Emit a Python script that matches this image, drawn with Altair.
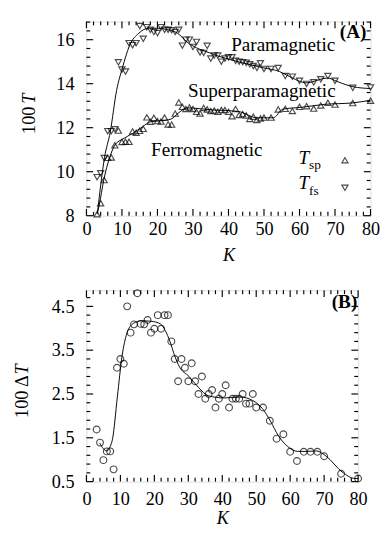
import altair as alt
import pandas as pd

FONT = "Liberation Serif, Times New Roman, serif"

# ---------------- data ----------------
K = list(range(3, 51)) + [52, 54, 56, 58, 60, 62, 64, 66, 68, 70, 75, 80]

T_sp = [8.07, 8.57, 9.62, 10.63, 10.65, 11.20, 11.87, 11.35, 11.36, 11.36,
        11.83, 11.77, 11.86, 11.95, 12.47, 12.27, 12.45, 12.30, 12.28, 12.46,
        12.15, 12.14, 12.64, 13.15, 12.95, 12.85, 12.92, 12.85, 12.72, 12.65,
        12.90, 12.83, 12.76, 12.78, 12.72, 12.80, 12.80, 12.72, 12.52, 12.85,
        12.58, 12.62, 12.56, 12.40, 12.50, 12.35, 12.42, 12.46,
        12.46, 12.83, 12.86, 12.76, 12.95, 12.98, 12.87, 13.01, 13.13, 13.05,
        13.12, 13.23]

T_fs = [9.75, 9.93, 10.62, 11.84, 11.84, 11.93, 14.97, 14.64, 14.55, 15.84,
        15.75, 15.84, 16.62, 16.04, 16.57, 16.45, 16.35, 16.30, 16.57, 16.45,
        16.45, 16.43, 16.35, 16.45, 15.73, 16.00, 16.00, 15.67, 15.90, 15.42,
        15.40, 15.72, 15.14, 15.28, 15.28, 15.00, 15.14, 15.20, 15.20, 15.04,
        15.00, 14.98, 14.95, 14.88, 14.80, 14.72, 14.93, 14.67,
        14.67, 14.71, 14.35, 14.32, 14.13, 13.99, 14.06, 14.20, 14.35, 14.13,
        13.81, 13.83]

dT = [1.69, 1.39, 0.99, 1.19, 1.19, 0.78, 3.10, 3.30, 3.19, 4.50,
      3.90, 4.09, 4.80, 4.10, 4.09, 4.19, 3.90, 3.99, 4.30, 3.99,
      4.30, 4.30, 3.70, 3.30, 2.79, 3.30, 3.10, 2.79, 3.20, 2.79,
      2.50, 2.90, 2.39, 2.50, 2.59, 2.19, 2.39, 2.50, 2.70, 2.19,
      2.39, 2.39, 2.39, 2.50, 2.28, 2.28, 2.50, 2.19,
      2.19, 1.89, 1.48, 1.58, 1.18, 0.97, 1.18, 1.18, 1.18, 1.08,
      0.68, 0.57]

fit_fs_K = [3.1, 5.1, 6.7, 8.5, 10.1, 12.1, 14.8, 17.5, 20.2, 22.9, 25.6, 28.3,
            35.5, 42.7, 49.9, 54.4, 57.1, 62.0, 67.9, 70.6, 75.1, 80.0]
fit_fs_T = [8.12, 10.65, 11.8, 13.7, 14.7, 15.72, 16.3, 16.52, 16.52, 16.45, 16.3, 15.9,
            15.35, 15.0, 14.72, 14.55, 14.33, 14.04, 14.26, 14.1, 13.86, 13.78]

fit_sp_K = [3.0, 3.6, 4.9, 6.55, 8.1, 10.3, 13.0, 15.7, 18.0, 21.2, 23.8, 26.0,
            28.3, 35.5, 42.7, 48.1, 52.6, 55.3, 60.7, 67.0, 75.1, 80.0]
fit_sp_T = [8.07, 8.48, 9.64, 10.65, 11.23, 11.49, 11.74, 12.03, 12.27, 12.32, 12.39, 12.68,
            12.9, 12.81, 12.74, 12.45, 12.45, 12.84, 12.93, 13.06, 13.13, 13.25]

fit_dT_K = [3.9, 5.0, 6.0, 7.0, 7.7, 9.1, 10.5, 11.9, 13.8, 16.2, 19.0, 21.8, 23.2,
            24.6, 26.0, 27.4, 30.2, 33.0, 35.9, 40.6, 45.3, 49.0, 51.8, 54.2, 56.5,
            59.3, 62.2, 65.0, 67.8, 70.6, 75.3, 79.1, 80.0]
fit_dT = [1.38, 1.25, 1.2, 1.3, 1.48, 2.43, 3.37, 3.88, 4.11, 4.17, 4.16, 4.1, 3.95,
          3.7, 3.37, 3.12, 2.9, 2.65, 2.46, 2.41, 2.43, 2.35, 2.17, 1.88, 1.55,
          1.3, 1.19, 1.19, 1.2, 1.08, 0.72, 0.57, 0.57]

x_major = [0, 10, 20, 30, 40, 50, 60, 70, 80]
x_minor = [v for v in range(0, 81, 2) if v % 10 != 0]
yA_major = [8, 10, 12, 14, 16]
yA_minor = [round(8 + 0.4 * i, 2) for i in range(23) if i % 5 != 0]
yB_major = [0.5, 1.5, 2.5, 3.5, 4.5]
yB_minor = [round(0.5 + 0.2 * i, 2) for i in range(22) if i % 5 != 0]

annA_K = [55.4, 49.4, 33.9]
annA_V = [15.47, 13.38, 10.73]
annA_txt = ["Paramagnetic", "Superparamagnetic", "Ferromagnetic"]

# ---------------- layout ----------------
WA, HA = 297, 203
WB, HB = 284, 200
LMAJ, LMIN = 7, 4


def panel(W, H, xdom, ydom, ymaj, ymin, yfmt, layers, ytitle_x, ytitle_parts,
          xlab_pad, xtitle_pad):
    xenc = alt.X("K:Q", scale=alt.Scale(domain=xdom, nice=False, zero=False),
                 axis=alt.Axis(values=x_major, format="d", tickSize=0, domain=False, grid=False,
                               labelFont=FONT, labelFontSize=19, labelColor="black",
                               labelPadding=xlab_pad, labelFlush=False,
                               title="K", titleFont=FONT, titleFontSize=19,
                               titleFontStyle="italic", titleFontWeight="normal",
                               titleColor="black", titlePadding=xtitle_pad))
    yenc = alt.Y("V:Q", scale=alt.Scale(domain=ydom, nice=False, zero=False),
                 axis=alt.Axis(values=ymaj, format=yfmt, tickSize=0, domain=False, grid=False,
                               labelFont=FONT, labelFontSize=19, labelColor="black",
                               labelPadding=13, labelFlush=False, title=None))
    out = []
    for kind, df, mk, extra in layers:
        base = alt.Chart(df)
        if kind == "point":
            c = base.mark_point(**mk)
        elif kind == "line":
            c = base.mark_line(**mk)
        else:
            c = base.mark_text(**mk)
        enc = dict(x=xenc, y=yenc)
        enc.update(extra)
        out.append(c.encode(**enc))
    # inward ticks on all four sides
    rk = dict(color="black", strokeWidth=1.2)
    for vals, L in ((x_major, LMAJ), (x_minor, LMIN)):
        d = pd.DataFrame({"K": vals})
        out.append(alt.Chart(d).mark_rule(**rk).encode(x=xenc, y=alt.value(H), y2=alt.value(H - L)))
        out.append(alt.Chart(d).mark_rule(**rk).encode(x=xenc, y=alt.value(0), y2=alt.value(L)))
    for vals, L in ((ymaj, LMAJ), (ymin, LMIN)):
        d = pd.DataFrame({"V": vals})
        out.append(alt.Chart(d).mark_rule(**rk).encode(y=yenc, x=alt.value(0), x2=alt.value(L)))
        out.append(alt.Chart(d).mark_rule(**rk).encode(y=yenc, x=alt.value(W), x2=alt.value(W - L)))
    for txt_, ypos, align, style in ytitle_parts:
        out.append(alt.Chart(pd.DataFrame({"t": [txt_]})).mark_text(
            font=FONT, fontSize=19, angle=270, align=align, baseline="middle",
            fontStyle=style, color="black").encode(
            x=alt.value(ytitle_x), y=alt.value(ypos), text="t:N"))
    return alt.layer(*out).properties(width=W, height=H)


# ----- panel A -----
pts_sp = pd.DataFrame({"K": K, "V": T_sp})
pts_fs = pd.DataFrame({"K": K, "V": T_fs})
line_sp = pd.DataFrame({"K": fit_sp_K, "V": fit_sp_T})
line_fs = pd.DataFrame({"K": fit_fs_K, "V": fit_fs_T})
annA = pd.DataFrame({"K": annA_K, "V": annA_V, "t": annA_txt})
labA = pd.DataFrame({"K": [75.1], "V": [16.09], "t": ["(A)"]})
legT = pd.DataFrame({"K": [59.7, 59.7], "V": [10.35, 9.22], "t": ["T", "T"]})
legS = pd.DataFrame({"K": [62.7, 62.7], "V": [10.13, 8.93], "t": ["sp", "fs"]})
legUp = pd.DataFrame({"K": [72.8], "V": [10.52]})
legDn = pd.DataFrame({"K": [72.8], "V": [9.27]})

lineA = dict(color="black", strokeWidth=1, interpolate="monotone")
triU = dict(shape="triangle-up", filled=False, size=42, color="black", strokeWidth=1.2)
triD = dict(shape="triangle-down", filled=False, size=42, color="black", strokeWidth=1.2)
txt = "t:N"

layersA = [
    ("line", line_sp, lineA, {}),
    ("line", line_fs, lineA, {}),
    ("point", pts_sp, triU, {}),
    ("point", pts_fs, triD, {}),
    ("point", legUp, triU, {}),
    ("point", legDn, triD, {}),
    ("text", annA, dict(font=FONT, fontSize=20, align="center", baseline="alphabetic", color="black"), {"text": txt}),
    ("text", labA, dict(font=FONT, fontSize=20, fontWeight="bold", align="center", baseline="alphabetic", color="black"), {"text": txt}),
    ("text", legT, dict(font=FONT, fontSize=20, fontStyle="italic", align="left", baseline="alphabetic", color="black"), {"text": txt}),
    ("text", legS, dict(font=FONT, fontSize=14, align="left", baseline="alphabetic", color="black"), {"text": txt}),
]
chartA = panel(WA, HA, [0, 80], [8, 8 + HA / 23], yA_major, yA_minor, "d", layersA, -60,
               [("100", 89, "right", "normal"), ("T", 86, "left", "italic")], 5, 8)

# ----- panel B -----
pts_dT = pd.DataFrame({"K": K, "V": dT})
line_dT = pd.DataFrame({"K": fit_dT_K, "V": fit_dT})
labB = pd.DataFrame({"K": [76.0], "V": [4.47], "t": ["(B)"]})
circ = dict(shape="circle", filled=False, size=50, color="black", strokeWidth=1.2)
layersB = [
    ("line", line_dT, lineA, {}),
    ("point", pts_dT, circ, {}),
    ("text", labB, dict(font=FONT, fontSize=20, fontWeight="bold", align="center", baseline="alphabetic", color="black"), {"text": txt}),
]
chartB = panel(WB, HB, [0, 80], [0.5, 0.5 + HB / 45.8], yB_major, yB_minor, ".1f", layersB, -67.6,
               [("100 \u0394", 89, "right", "normal"), ("T", 88, "left", "italic")], 9, 1)

chart = alt.concat(chartA, chartB, columns=1, spacing=22).properties(
    align="none",
    padding={"left": 4, "top": 0, "right": 2, "bottom": 2},
).configure_view(stroke="black", strokeWidth=1.5).configure(background="white")

chart.save("out.html", embed_options={"renderer": "svg", "actions": False})
